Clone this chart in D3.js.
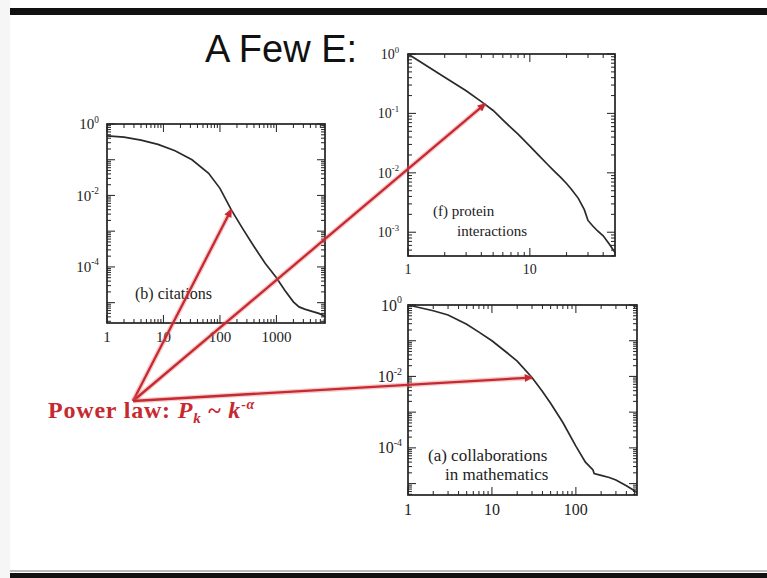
<!DOCTYPE html>
<html>
<head>
<meta charset="utf-8">
<script src="https://cdn.jsdelivr.net/npm/d3@7"></script>
<style>
  html, body { margin: 0; padding: 0; background: #fff; }
  svg { display: block; }
</style>
</head>
<body>
<script>
// Cumulative degree distributions P(k) for three networks (log-log)
const citationsK = [1, 2, 4, 8, 16, 32, 63, 100, 158, 251, 398, 631, 1000, 1413, 1995, 2512, 3162, 3981, 5623, 7244];
const citationsP = [0.468, 0.427, 0.355, 0.269, 0.178, 0.1, 0.0417, 0.0158, 0.004, 0.0012, 0.00038, 0.000126, 5.0e-5, 2.2e-5, 1.05e-5, 7.6e-6, 6.6e-6, 5.9e-6, 5.0e-6, 4.2e-6];

const proteinK = [1, 2, 3, 4, 5, 6, 7, 8, 10, 12, 14, 16, 18, 20, 22, 25, 28, 30, 33, 36, 40, 45, 50];
const proteinP = [1, 0.407, 0.24, 0.158, 0.112, 0.0776, 0.0575, 0.0447, 0.0282, 0.0191, 0.0138, 0.0105, 0.00832, 0.00661, 0.00525, 0.00372, 0.0024, 0.00158, 0.00126, 0.00105, 0.00087, 0.00063, 0.000457];

const collabK = [1, 2, 3, 5, 7, 10, 15, 20, 30, 40, 50, 70, 100, 130, 160, 165, 200, 250, 300, 400, 500, 535];
const collabP = [1, 0.692, 0.525, 0.288, 0.174, 0.1, 0.0468, 0.0269, 0.00933, 0.0038, 0.00178, 0.000513, 0.000112, 3.98e-5, 2.4e-5, 1.9e-5, 1.7e-5, 1.48e-5, 1.26e-5, 8.7e-6, 6.3e-6, 5.6e-6];

// Axis tick labels (x values, and y exponents of ten)
const citationsXLabels = [1, 10, 100, 1000];
const citationsYExp = [0, -2, -4];
const proteinXLabels = [1, 10];
const proteinYExp = [0, -1, -2, -3];
const collabXLabels = [1, 10, 100];
const collabYExp = [0, -2, -4];

// Points on each curve where the power-law arrows land
const arrowPanel = ["b", "f", "a"];
const arrowK = [158, 4.3, 30];
const arrowP = [0.004, 0.145, 0.0093];

const W = 767, H = 578;
const svg = d3.select("body").append("svg").attr("width", W).attr("height", H);

// slide frame bars
svg.append("rect").attr("x", 0).attr("y", 0).attr("width", 10).attr("height", H).attr("fill", "#f6f6f6");
svg.append("rect").attr("x", 10).attr("y", 8).attr("width", W - 10).attr("height", 7).attr("fill", "#111");
svg.append("rect").attr("x", 10).attr("y", 570).attr("width", W - 10).attr("height", 2).attr("fill", "#bbb");
svg.append("rect").attr("x", 10).attr("y", 573).attr("width", W - 10).attr("height", 5).attr("fill", "#111");

// slide title (partly hidden behind the inset plot)
svg.append("text")
  .attr("x", 205).attr("y", 62)
  .attr("font-family", "Liberation Sans, Arial, sans-serif")
  .attr("font-size", 38)
  .attr("fill", "#111")
  .text("A Few E:");

const panels = [
  { key: "b", left: 107, top: 124, right: 325, bottom: 323, kMax: 7244, pMin: Math.pow(10, -5.57),
    k: citationsK, p: citationsP, xLabels: citationsXLabels, yExp: citationsYExp, fs: 15, xLabDy: 19, yGap: 8,
    notes: [["(b) citations", 135, 299]] },
  { key: "f", left: 408, top: 54, right: 615, bottom: 256, kMax: 50, pMin: Math.pow(10, -3.4),
    k: proteinK, p: proteinP, xLabels: proteinXLabels, yExp: proteinYExp, fs: 14, xLabDy: 18, yGap: 9,
    notes: [["(f) protein", 433, 216], ["interactions", 457, 236]] },
  { key: "a", left: 408, top: 305, right: 637, bottom: 495, kMax: 535, pMin: Math.pow(10, -5.32),
    k: collabK, p: collabP, xLabels: collabXLabels, yExp: collabYExp, fs: 16, xLabDy: 20, yGap: 6,
    notes: [["(a) collaborations", 428, 461], ["in mathematics", 445, 480]] }
];

function logTicks(min, max) {
  const out = [];
  for (let n = Math.floor(Math.log10(min)); n <= Math.ceil(Math.log10(max)); n++) {
    for (let m = 1; m <= 9; m++) {
      const v = m * Math.pow(10, n);
      if (v >= min * 0.999 && v <= max * 1.001) out.push({ v, major: m === 1 });
    }
  }
  return out;
}

const scales = {};
const serif = "Liberation Serif, Times New Roman, serif";

panels.forEach(pn => {
  const x = d3.scaleLog().domain([1, pn.kMax]).range([pn.left, pn.right]);
  const y = d3.scaleLog().domain([pn.pMin, 1]).range([pn.bottom, pn.top]);
  scales[pn.key] = { x, y };
  const g = svg.append("g");

  // white backing for the inset
  g.append("rect")
    .attr("x", pn.left - 40).attr("y", pn.top - 12)
    .attr("width", pn.right - pn.left + 48).attr("height", pn.bottom - pn.top + 36)
    .attr("fill", "#fff");

  const xt = logTicks(1, pn.kMax);
  const yt = logTicks(pn.pMin, 1);
  const tg = g.append("g").attr("stroke", "#333").attr("stroke-width", 1.1);
  xt.forEach(t => {
    const len = t.major ? 8 : 4;
    const xx = x(t.v);
    tg.append("line").attr("x1", xx).attr("x2", xx).attr("y1", pn.bottom).attr("y2", pn.bottom - len);
    tg.append("line").attr("x1", xx).attr("x2", xx).attr("y1", pn.top).attr("y2", pn.top + len);
  });
  yt.forEach(t => {
    const len = t.major ? 8 : 4;
    const yy = y(t.v);
    tg.append("line").attr("y1", yy).attr("y2", yy).attr("x1", pn.left).attr("x2", pn.left + len);
    tg.append("line").attr("y1", yy).attr("y2", yy).attr("x1", pn.right).attr("x2", pn.right - len);
  });

  // frame
  g.append("rect")
    .attr("x", pn.left).attr("y", pn.top)
    .attr("width", pn.right - pn.left).attr("height", pn.bottom - pn.top)
    .attr("fill", "none").attr("stroke", "#222").attr("stroke-width", 1.7);

  // x tick labels
  pn.xLabels.forEach(v => {
    g.append("text")
      .attr("x", x(v)).attr("y", pn.bottom + pn.xLabDy)
      .attr("text-anchor", "middle")
      .attr("font-family", serif).attr("font-size", pn.fs).attr("fill", "#222")
      .text(v);
  });
  // y tick labels as powers of ten
  pn.yExp.forEach(e => {
    const t = g.append("text")
      .attr("x", pn.left - pn.yGap).attr("y", y(Math.pow(10, e)) + pn.fs * 0.35)
      .attr("text-anchor", "end")
      .attr("font-family", serif).attr("font-size", pn.fs).attr("fill", "#222");
    t.append("tspan").text("10");
    t.append("tspan").attr("dy", -pn.fs * 0.45).attr("font-size", pn.fs * 0.62).text(e === 0 ? "0" : String(e));
  });

  // distribution curve
  const pts = pn.k.map((k, i) => [k, pn.p[i]]);
  g.append("path")
    .datum(pts)
    .attr("d", d3.line().x(d => x(d[0])).y(d => y(d[1])))
    .attr("fill", "none").attr("stroke", "#2a2a2a").attr("stroke-width", 1.7);

  // panel caption
  pn.notes.forEach(([txt, nx, ny]) => {
    g.append("text")
      .attr("x", nx).attr("y", ny)
      .attr("font-family", serif).attr("font-size", pn.fs + 1).attr("fill", "#222")
      .text(txt);
  });
});

// power-law arrows
const red = "#c62a30";
svg.append("defs").append("marker")
  .attr("id", "head").attr("viewBox", "0 0 10 10")
  .attr("refX", 9).attr("refY", 5)
  .attr("markerWidth", 9).attr("markerHeight", 8)
  .attr("markerUnits", "userSpaceOnUse")
  .attr("orient", "auto")
  .append("path").attr("d", "M0,0 L10,5 L0,10 z").attr("fill", red);

const origin = [133, 401];
const ag = svg.append("g");
arrowPanel.forEach((key, i) => {
  const s = scales[key];
  const tx = s.x(arrowK[i]), ty = s.y(arrowP[i]);
  ag.append("line")
    .attr("x1", origin[0]).attr("y1", origin[1]).attr("x2", tx).attr("y2", ty)
    .attr("stroke", "rgba(225,110,115,0.35)").attr("stroke-width", 5);
  ag.append("line")
    .attr("x1", origin[0]).attr("y1", origin[1]).attr("x2", tx).attr("y2", ty)
    .attr("stroke", red).attr("stroke-width", 2.3)
    .attr("marker-end", "url(#head)");
});

// power-law label
const lab = svg.append("text")
  .attr("x", 48).attr("y", 418)
  .attr("font-family", serif).attr("font-size", 24).attr("font-weight", "bold")
  .attr("letter-spacing", 0.8)
  .attr("fill", red);
lab.append("tspan").text("Power law: ");
lab.append("tspan").attr("font-style", "italic").text("P");
lab.append("tspan").attr("font-style", "italic").attr("font-size", 15).attr("dy", 5).text("k");
lab.append("tspan").attr("dy", -5).text(" ~ ");
lab.append("tspan").attr("font-style", "italic").text("k");
lab.append("tspan").attr("font-style", "italic").attr("font-size", 14).attr("dy", -9).text("-α");
</script>
</body>
</html>
